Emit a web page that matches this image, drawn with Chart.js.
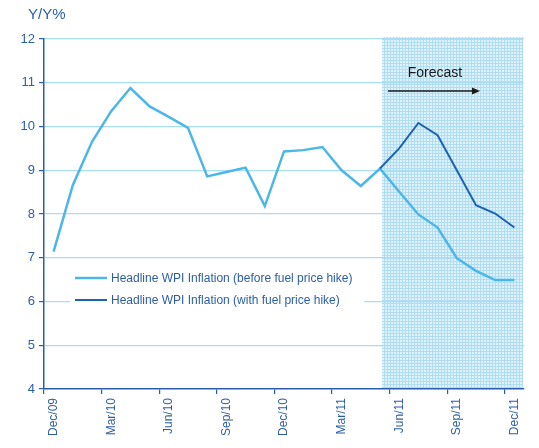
<!DOCTYPE html>
<html>
<head>
<meta charset="utf-8">
<script src="https://cdn.jsdelivr.net/npm/chart.js@4.4.0/dist/chart.umd.min.js"></script>
<style>
  html, body { margin: 0; padding: 0; background: #fff; }
  #wrap { width: 539px; height: 448px; }
</style>
</head>
<body>
<div id="wrap"><canvas id="wpiChart" width="539" height="448"></canvas></div>
<script>
// Data
const months = ['Dec/09', 'Jan/10', 'Feb/10', 'Mar/10', 'Apr/10', 'May/10', 'Jun/10', 'Jul/10',
    'Aug/10', 'Sep/10', 'Oct/10', 'Nov/10', 'Dec/10', 'Jan/11', 'Feb/11', 'Mar/11', 'Apr/11',
    'May/11', 'Jun/11', 'Jul/11', 'Aug/11', 'Sep/11', 'Oct/11', 'Nov/11', 'Dec/11'];
const beforeHike = [7.14, 8.66, 9.65, 10.35, 10.88, 10.46, 10.22, 9.97, 8.86, 8.96, 9.06, 8.18,
    9.43, 9.46, 9.53, 9.0, 8.64, 9.04, 8.51, 7.99, 7.69, 6.99, 6.7, 6.49, 6.49];
const withHike = [null, null, null, null, null, null, null, null, null, null, null, null,
    null, null, null, null, null, 9.04, 9.5, 10.08, 9.8, 9.0, 8.2, 8.01, 7.69];
const seriesNames = ['Headline WPI Inflation (before fuel price hike)',
    'Headline WPI Inflation (with fuel price hike)'];
const forecastFrom = 'May/11';
const yTicks = [4, 5, 6, 7, 8, 9, 10, 11, 12];

const LIGHT = '#4cb6e8';
const DARK = '#1f63ae';
const AXIS = '#2a5eaa';
const TEXT = '#2c5ea8';
const GRID = '#aadcf2';

// hatched fill for the forecast block
function makePattern(ctx) {
    const c = document.createElement('canvas');
    c.width = 3; c.height = 3;
    const p = c.getContext('2d');
    p.fillStyle = '#e0f2fc';
    p.fillRect(0, 0, 3, 3);
    p.fillStyle = '#b0dcf4';
    p.fillRect(0, 0, 3, 1);
    p.fillRect(0, 0, 1, 3);
    return ctx.createPattern(c, 'repeat');
}

const forecastPlugin = {
    id: 'forecast',
    beforeDraw(chart) {
        const { ctx, chartArea, scales } = chart;
        const x0 = scales.x.getPixelForValue(months.indexOf(forecastFrom)) + 2;
        ctx.save();
        ctx.fillStyle = makePattern(ctx);
        ctx.fillRect(x0, chartArea.top - 2, chartArea.right - x0 - 1, chartArea.bottom - chartArea.top + 2);
        ctx.restore();
    },
    afterDatasetsDraw(chart) {
        const { ctx } = chart;
        ctx.save();
        ctx.fillStyle = '#1a1a1a';
        ctx.font = '14px "Liberation Sans", Arial, sans-serif';
        ctx.textAlign = 'center';
        ctx.textBaseline = 'middle';
        ctx.fillText('Forecast', 435, 73);
        ctx.strokeStyle = '#1a1a1a';
        ctx.lineWidth = 1.6;
        ctx.beginPath();
        ctx.moveTo(388, 91);
        ctx.lineTo(474, 91);
        ctx.stroke();
        ctx.beginPath();
        ctx.moveTo(480, 91);
        ctx.lineTo(472, 87.5);
        ctx.lineTo(472, 94.5);
        ctx.closePath();
        ctx.fill();
        ctx.restore();
    },
    afterDraw(chart) {
        const { ctx } = chart;
        ctx.save();
        // axis title
        ctx.fillStyle = TEXT;
        ctx.font = '15px "Liberation Sans", Arial, sans-serif';
        ctx.textBaseline = 'middle';
        ctx.fillText('Y/Y%', 28, 15);
        // legend inside the plot
        ctx.fillStyle = '#fff';
        ctx.fillRect(70, 267, 294, 43);
        const colors = [LIGHT, DARK];
        const rows = [278, 300];
        ctx.font = '12px "Liberation Sans", Arial, sans-serif';
        seriesNames.forEach((name, i) => {
            ctx.strokeStyle = colors[i];
            ctx.lineWidth = i === 0 ? 2.5 : 2;
            ctx.beginPath();
            ctx.moveTo(75, rows[i]);
            ctx.lineTo(107, rows[i]);
            ctx.stroke();
            ctx.fillStyle = TEXT;
            ctx.fillText(name, 111, rows[i] + 0.5);
        });
        ctx.restore();
    }
};

const ctx = document.getElementById('wpiChart').getContext('2d');
const wpiChart = new Chart(ctx, {
    type: 'line',
    data: {
        labels: months,
        datasets: [{
            label: seriesNames[0],
            data: beforeHike,
            borderColor: LIGHT,
            borderWidth: 2.5,
            pointRadius: 0,
            tension: 0,
            order: 1
        }, {
            label: seriesNames[1],
            data: withHike,
            borderColor: DARK,
            borderWidth: 2,
            pointRadius: 0,
            tension: 0,
            order: 0
        }]
    },
    options: {
        responsive: false,
        animation: false,
        layout: { padding: { left: 0, top: 39, right: 15, bottom: 0 } },
        plugins: {
            legend: { display: false },
            tooltip: { enabled: false }
        },
        scales: {
            x: {
                type: 'category',
                offset: true,
                afterFit: (s) => { s.height = 59; },
                grid: {
                    offset: true,
                    drawOnChartArea: false,
                    tickLength: 5,
                    color: (c) => (c.index % 3 === 0 ? AXIS : 'transparent'),
                    lineWidth: 1.2
                },
                border: { color: AXIS, width: 1.5 },
                ticks: {
                    autoSkip: false,
                    minRotation: 90,
                    maxRotation: 90,
                    padding: 4,
                    color: TEXT,
                    font: { family: '"Liberation Sans", Arial, sans-serif', size: 12 },
                    callback: (v, i) => (i % 3 === 0 ? months[i] : '')
                }
            },
            y: {
                min: 4,
                max: 12,
                afterFit: (s) => { s.width = 44; },
                afterBuildTicks: (s) => { s.ticks = yTicks.map(v => ({ value: v })); },
                grid: {
                    color: (c) => (c.tick && c.tick.value === 4 ? 'transparent' : GRID),
                    tickColor: AXIS,
                    tickLength: 5,
                    lineWidth: 1.2
                },
                border: { color: AXIS, width: 1.5 },
                ticks: {
                    padding: 4,
                    color: TEXT,
                    font: { family: '"Liberation Sans", Arial, sans-serif', size: 13 }
                }
            }
        }
    },
    plugins: [forecastPlugin]
});
</script>
</body>
</html>
